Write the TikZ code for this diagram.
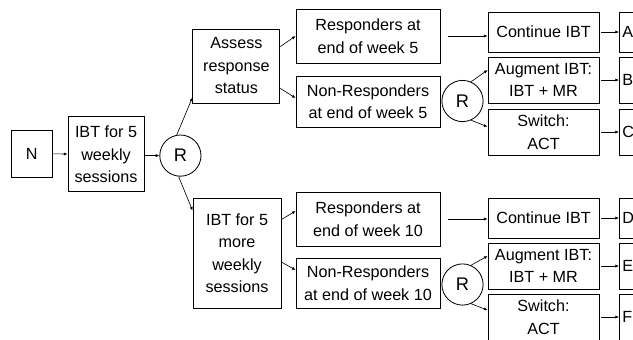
\documentclass[tikz,border=0pt]{standalone}
\usepackage{fontspec}
\setmainfont{Liberation Sans}
\usetikzlibrary{arrows.meta,positioning,calc}

\begin{document}
\begin{tikzpicture}[
    box/.style={draw,line width=0.6pt,align=center,inner sep=0pt,font=\fontsize{11.5}{16}\selectfont},
    rand/.style={circle,draw,line width=0.6pt,minimum size=1.03cm,inner sep=0pt,font=\fontsize{13}{15}\selectfont},
    outcome/.style={draw,line width=0.6pt,anchor=west,align=left,text width=1.2cm,inner xsep=0.075cm,inner ysep=0pt,font=\fontsize{11.5}{16}\selectfont},
    arr/.style={-{Latex[length=2.6pt,width=2.2pt]},line width=0.45pt}
]
            \useasboundingbox (0,0) rectangle (15.825,-8.475);
            \clip (0,0) rectangle (15.825,-8.475);

            % First stage
            \node[box,minimum width=1.025cm,minimum height=1.175cm] (start) at (0.79,-3.84) {N};
            \node[box,minimum width=1.9cm,minimum height=1.875cm] (ibtFirst) at (2.65,-3.86) {IBT for 5\\weekly\\sessions};
            \node[rand] (rndFirst) at (4.51,-3.89) {R};

            % Second stage
            \node[box,minimum width=2.175cm,minimum height=1.85cm] (assess) at (5.91,-1.65) {Assess\\response\\status};
            \node[box,minimum width=2.2cm,minimum height=2.75cm] (ibtMore) at (5.925,-6.325) {IBT for 5\\more\\weekly\\sessions};

            % Responders and non-responders
            \node[box,minimum width=3.6cm,minimum height=1.35cm] (resp5) at (9.2,-0.9) {Responders at\\end of week 5};
            \node[box,minimum width=3.6cm,minimum height=1.275cm] (nonResp5) at (9.2,-2.54) {Non-Responders\\at end of week 5};
            \node[box,minimum width=3.6cm,minimum height=1.35cm] (resp10) at (9.2,-5.475) {Responders at\\end of week 10};
            \node[box,minimum width=3.6cm,minimum height=1.25cm] (nonResp10) at (9.2,-7.075) {Non-Responders\\at end of week 10};

            % Second randomisations
            \node[rand] (rndWeek5) at (11.5625,-2.525) {R};
            \node[rand] (rndWeek10) at (11.5625,-7.1125) {R};

            % Treatments after week 5
            \node[box,minimum width=2.775cm,minimum height=1.0cm] (cont5) at (13.5875,-0.8) {Continue IBT};
            \node[box,minimum width=2.775cm,minimum height=1.15cm] (aug5) at (13.5875,-2.0) {Augment IBT:\\IBT + MR};
            \node[box,minimum width=2.775cm,minimum height=1.15cm] (switch5) at (13.5875,-3.3) {Switch:\\ACT};

            % Treatments after week 10
            \node[box,minimum width=2.775cm,minimum height=1.0cm] (cont10) at (13.5875,-5.45) {Continue IBT};
            \node[box,minimum width=2.775cm,minimum height=1.15cm] (aug10) at (13.5875,-6.65) {Augment IBT:\\IBT + MR};
            \node[box,minimum width=2.775cm,minimum height=1.15cm] (switch10) at (13.5875,-7.925) {Switch:\\ACT};

            % Groups
            \node[outcome,minimum height=1.0cm] (grpA) at (15.475,-0.8) {A};
            \node[outcome,minimum height=1.15cm] (grpB) at (15.475,-2.0) {B};
            \node[outcome,minimum height=1.15cm] (grpC) at (15.475,-3.3) {C};
            \node[outcome,minimum height=1.0cm] (grpD) at (15.475,-5.45) {D};
            \node[outcome,minimum height=1.15cm] (grpE) at (15.475,-6.65) {E};
            \node[outcome,minimum height=1.15cm] (grpF) at (15.475,-7.925) {F};

            % Arcs of the first stage
            \draw[arr] (start) -- (ibtFirst);
            \draw[arr] (ibtFirst.east |- rndFirst.west) -- (rndFirst.west);
            \draw[arr] (rndFirst.100) -- ([yshift=0.15cm]assess.south west);
            \draw[arr] (rndFirst.265) -- ([yshift=-0.325cm]ibtMore.north west);

            % Arcs to responders and non-responders
            \draw[arr] ([yshift=-0.45cm]assess.north east) -- (resp5.west);
            \draw[arr] ([yshift=0.375cm]assess.south east) -- ([yshift=0.09cm]nonResp5.west);
            \draw[arr] ([yshift=-0.55cm]ibtMore.north east) -- ([yshift=0.2cm]resp10.west);
            \draw[arr] ([yshift=-0.225cm]ibtMore.east) -- ([yshift=0.325cm]nonResp10.west);

            % Arcs to treatments
            \draw[arr,shorten <=0.18cm] (resp5.east) -- (resp5.east -| cont5.west);
            \draw[arr] (rndWeek5.66) -- ([yshift=0.25cm]aug5.west);
            \draw[arr] (rndWeek5.-66) -- ([yshift=0.13cm]switch5.west);
            \draw[arr,shorten <=0.18cm] (resp10.east) -- (resp10.east -| cont10.west);
            \draw[arr] (rndWeek10.66) -- ([yshift=0.25cm]aug10.west);
            \draw[arr] (rndWeek10.-66) -- ([yshift=0.17cm]switch10.west);

            % Arcs to groups
            \draw[arr,shorten <=0.05cm] (cont5) -- (grpA);
            \draw[arr,shorten <=0.05cm] (aug5) -- (grpB);
            \draw[arr,shorten <=0.05cm] (switch5) -- (grpC);
            \draw[arr,shorten <=0.05cm] (cont10) -- (grpD);
            \draw[arr,shorten <=0.05cm] (aug10) -- (grpE);
            \draw[arr,shorten <=0.05cm] (switch10) -- (grpF);

        \end{tikzpicture}
\end{document}
